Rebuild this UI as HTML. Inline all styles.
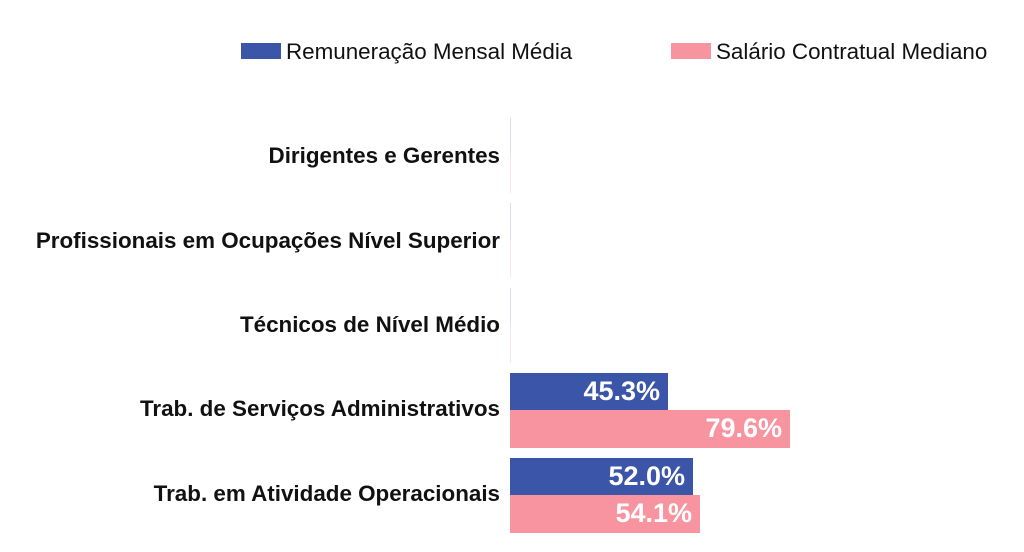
<!DOCTYPE html>
<html><head><style>
body{margin:0;width:1024px;height:552px;background:#fff;font-family:"Liberation Sans",sans-serif;position:relative;overflow:hidden}
div{position:absolute}
.lab{right:524px;font-weight:bold;font-size:22.4px;color:#111;white-space:nowrap;line-height:24px}
.b{background:#3b55a9;left:510px;height:37px}
.p{background:#f7949f;left:510px;height:38px}
.v{color:#fff;font-weight:bold;font-size:27px;line-height:37px;text-align:right;padding-right:8px;box-sizing:border-box}
.tb{background:#dcdff3;left:510px;width:1px;height:37px}
.tp{background:#fde4e7;left:510px;width:1px;height:38px}
.leg{font-size:22.4px;color:#111;top:40px;line-height:24px}
</style></head><body>
<div style="left:241px;top:43px;width:40px;height:16px;background:#3b55a9"></div>
<div class="leg" style="left:286px">Remuneração Mensal Média</div>
<div style="left:671px;top:43px;width:40px;height:16px;background:#f7949f"></div>
<div class="leg" style="left:716px">Salário Contratual Mediano</div>

<div class="lab" style="top:144px">Dirigentes e Gerentes</div>
<div class="tb" style="top:118px"></div><div class="tp" style="top:155px"></div>
<div class="lab" style="top:229px">Profissionais em Ocupações Nível Superior</div>
<div class="tb" style="top:203px"></div><div class="tp" style="top:240px"></div>
<div class="lab" style="top:313px">Técnicos de Nível Médio</div>
<div class="tb" style="top:288px"></div><div class="tp" style="top:325px"></div>
<div class="lab" style="top:397px">Trab. de Serviços Administrativos</div>
<div class="b v" style="top:373px;width:158px">45.3%</div>
<div class="p v" style="top:410px;width:280px">79.6%</div>
<div class="lab" style="top:482px">Trab. em Atividade Operacionais</div>
<div class="b v" style="top:458px;width:183px">52.0%</div>
<div class="p v" style="top:495px;width:190px">54.1%</div>
</body></html>
